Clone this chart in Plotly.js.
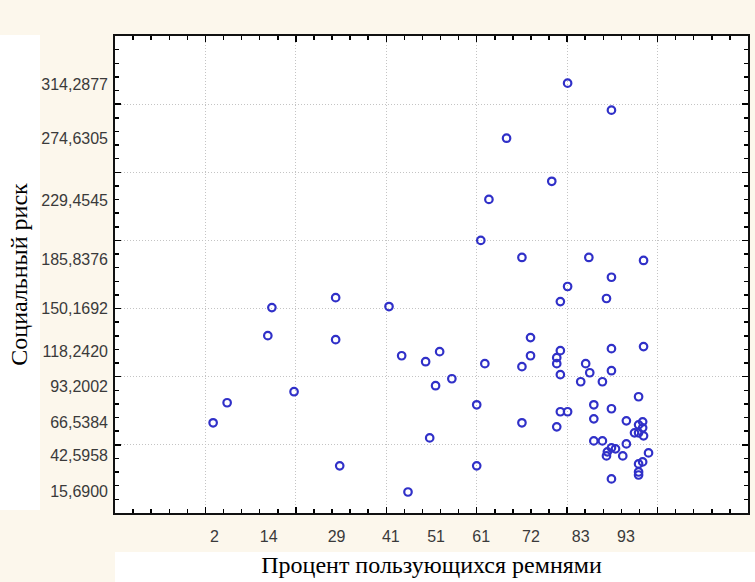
<!DOCTYPE html>
<html>
<head>
<meta charset="utf-8">
<script src="https://cdn.plot.ly/plotly-3.0.1.min.js"></script>
<style>html,body{margin:0;padding:0;background:#fcf7ec;}#chart{width:755px;height:582px;}</style>
</head>
<body>
<div id="chart"></div>
<script>
// Data
const xTickVals = [2, 14, 29, 41, 51, 61, 72, 83, 93];
const xTickText = ["2", "14", "29", "41", "51", "61", "72", "83", "93"];
const yTickVals = [314.2877, 274.6305, 229.4545, 185.8376, 150.1692, 118.2420, 93.2002, 66.5384, 42.5958, 15.6900];
const yTickText = ["314,2877", "274,6305", "229,4545", "185,8376", "150,1692", "118,2420", "93,2002", "66,5384", "42,5958", "15,6900"];

const beltPercent = [1.7, 4.8, 13.8, 14.7, 19.6, 28.8, 28.8, 29.7, 40.6, 43.4, 44.8,
  48.7, 51.8, 54.5, 50.9, 49.6, 60.0, 60.0, 61.8, 62.7, 60.9,
  80.1, 89.8, 66.6, 76.6, 70.0, 84.8, 96.9, 89.8, 80.1, 78.5, 88.7,
  71.9, 71.9, 70.0, 78.5, 77.7, 77.7, 78.5, 89.8, 96.9, 84.1,
  85.0, 89.8, 83.0, 87.8, 95.8, 78.5, 80.1, 70.0, 77.7, 85.9,
  85.9, 89.8, 93.1, 95.8, 96.7, 96.7, 94.9, 95.8, 96.9, 85.9,
  87.8, 93.1, 89.8, 90.7, 88.9, 88.7, 92.3, 98.0, 96.7, 95.8,
  95.8, 95.8, 89.8];
const socialRisk = [66.2, 80.9, 130.1, 150.7, 89.0, 158.0, 127.2, 34.6, 151.5, 115.4, 15.4,
  111.0, 118.4, 98.5, 93.4, 55.1, 79.4, 34.6, 109.6, 230.1, 200.0,
  315.4, 295.6, 275.0, 243.4, 187.5, 187.5, 185.3, 173.0, 166.2, 155.1, 157.4,
  128.7, 115.4, 107.4, 119.1, 114.0, 109.6, 101.5, 120.6, 122.1, 109.6,
  102.9, 104.4, 96.3, 96.3, 85.3, 74.3, 74.3, 66.2, 63.2, 79.4,
  69.1, 76.5, 67.6, 64.7, 66.9, 62.5, 58.8, 58.8, 56.6, 52.9,
  52.9, 50.7, 47.8, 47.1, 44.9, 41.9, 41.9, 44.1, 37.5, 36.0,
  30.1, 27.9, 25.0];

const xRange = [-20, 120];
const yRange = [0, 350];

const W = 755, H = 582;
const M = {l: 115, r: 7, t: 36, b: 69};
const PW = W - M.l - M.r, PH = H - M.t - M.b;
const px = v => (v - M.l) / PW;
const py = v => (H - M.b - v) / PH;

const cream = '#fcf7ec';
const tickFont = {family: 'Liberation Sans, Arial, sans-serif', size: 16, color: '#3a3a3a'};
const titleFont = {family: 'Liberation Serif, Times New Roman, serif', size: 24, color: '#000'};

const traces = [
  {
    type: 'scatter', mode: 'markers', x: beltPercent, y: socialRisk,
    xaxis: 'x', yaxis: 'y',
    marker: {symbol: 'circle-open', size: 7.5, color: '#3030c8', line: {width: 2.2, color: '#3030c8'}},
    hoverinfo: 'x+y', showlegend: false
  },
  {type: 'scatter', mode: 'markers', x: [], y: [], xaxis: 'x2', yaxis: 'y2', showlegend: false, hoverinfo: 'skip'}
];

const gridAxisCommon = {
  showticklabels: false, ticks: 'inside', ticklen: 6, tickwidth: 1.5, tickcolor: '#000',
  showgrid: true, gridcolor: '#c4c4c4', griddash: '1px,2px', gridwidth: 1,
  showline: true, linecolor: '#111', linewidth: 2, mirror: 'ticks', zeroline: false
};

const layout = {
  width: W, height: H,
  margin: M,
  paper_bgcolor: cream, plot_bgcolor: '#ffffff',
  showlegend: false,
  xaxis: Object.assign({}, gridAxisCommon, {
    range: xRange, tick0: 0, dtick: 20,
    minor: {tick0: 0, dtick: 4, ticks: 'inside', ticklen: 4, tickwidth: 1.5, tickcolor: '#000', showgrid: false}
  }),
  yaxis: Object.assign({}, gridAxisCommon, {
    range: yRange, tick0: 0, dtick: 50,
    minor: {tick0: 0, dtick: 10, ticks: 'inside', ticklen: 4, tickwidth: 1.5, tickcolor: '#000', showgrid: false}
  }),
  xaxis2: {
    overlaying: 'x', anchor: 'y', side: 'bottom', range: xRange,
    tickmode: 'array', tickvals: xTickVals, ticktext: xTickText,
    ticks: '', showgrid: false, zeroline: false, showline: false,
    tickfont: tickFont, ticklabelstandoff: 12,
    title: {text: 'Процент пользующихся ремнями', font: titleFont, standoff: 12}
  },
  yaxis2: {
    overlaying: 'y', anchor: 'x', side: 'left', range: yRange,
    tickmode: 'array', tickvals: yTickVals, ticktext: yTickText,
    ticks: '', showgrid: false, zeroline: false, showline: false,
    tickfont: tickFont, ticklabelstandoff: 6,
    title: {text: 'Социальный риск', font: titleFont, standoff: 6}
  },
  shapes: [
    {type: 'rect', xref: 'paper', yref: 'paper', layer: 'below',
     x0: px(0), x1: px(40), y0: py(510), y1: py(35), fillcolor: '#ffffff', line: {width: 0}},
    {type: 'rect', xref: 'paper', yref: 'paper', layer: 'below',
     x0: px(115), x1: px(755), y0: py(582), y1: py(552), fillcolor: '#ffffff', line: {width: 0}}
  ]
};

Plotly.newPlot('chart', traces, layout, {displayModeBar: false, staticPlot: true});
</script>
</body>
</html>
